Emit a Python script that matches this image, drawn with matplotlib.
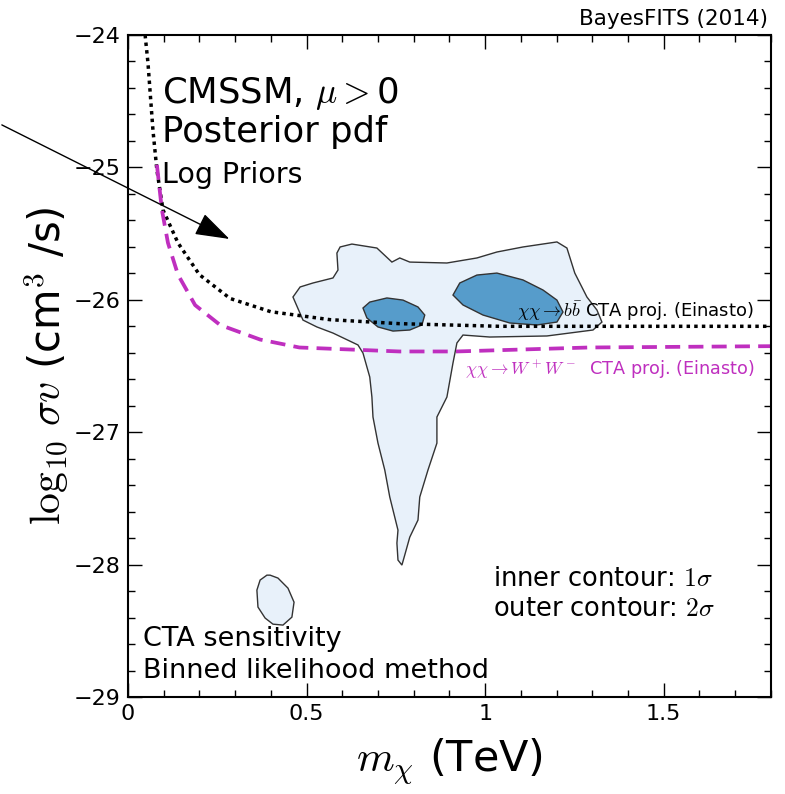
import numpy as np
import matplotlib.pyplot as plt
from matplotlib.ticker import MultipleLocator, FuncFormatter

plt.rcParams['mathtext.fontset'] = 'cm'
plt.rcParams['font.family'] = 'DejaVu Sans'

# outer (2 sigma) contour, main region
outer_x = [0.594, 0.627, 0.697, 0.739, 0.761, 0.789, 0.893, 0.977, 1.033, 1.106,
           1.201, 1.229, 1.251, 1.285, 1.313, 1.327, 1.302, 1.173, 1.013, 0.938,
           0.921, 0.910, 0.893, 0.865, 0.865, 0.840, 0.817, 0.812, 0.789, 0.775,
           0.767, 0.756, 0.753, 0.756, 0.733, 0.719, 0.700, 0.686, 0.683, 0.677,
           0.658, 0.644, 0.574, 0.529, 0.490, 0.462, 0.482, 0.518, 0.574, 0.588,
           0.585]
outer_y = [-25.601, -25.579, -25.609, -25.715, -25.684, -25.715, -25.722, -25.684,
           -25.639, -25.601, -25.563, -25.609, -25.798, -25.979, -26.077, -26.168,
           -26.228, -26.273, -26.281, -26.266, -26.326, -26.477, -26.734, -26.885,
           -27.082, -27.285, -27.489, -27.663, -27.792, -27.927, -28.003, -27.965,
           -27.837, -27.739, -27.489, -27.285, -27.082, -26.885, -26.734, -26.583,
           -26.402, -26.341, -26.251, -26.205, -26.153, -25.979, -25.903, -25.873,
           -25.835, -25.775, -25.647]

# outer contour, small island at low mass
island_x = [0.389, 0.370, 0.361, 0.364, 0.384, 0.406, 0.434, 0.459, 0.465, 0.448,
            0.420, 0.398]
island_y = [-28.079, -28.116, -28.192, -28.320, -28.403, -28.449, -28.456, -28.396,
            -28.283, -28.177, -28.101, -28.079]

# inner (1 sigma) contours
inner1_x = [0.658, 0.677, 0.725, 0.770, 0.812, 0.831, 0.823, 0.789, 0.742, 0.700, 0.669]
inner1_y = [-26.062, -26.017, -25.986, -26.002, -26.054, -26.115, -26.190, -26.228,
            -26.236, -26.205, -26.137]
inner2_x = [0.910, 0.929, 0.977, 1.033, 1.106, 1.162, 1.201, 1.218, 1.201, 1.145,
            1.069, 0.994, 0.938]
inner2_y = [-25.964, -25.873, -25.813, -25.798, -25.850, -25.926, -26.002, -26.092,
            -26.168, -26.190, -26.175, -26.115, -26.039]

# CTA projected sensitivities (Einasto)
bb_x = [0.048, 0.056, 0.070, 0.081, 0.098, 0.14, 0.20, 0.286, 0.40, 0.566, 0.76, 1.04, 1.8]
bb_y = [-24.0, -24.21, -24.72, -25.02, -25.32, -25.57, -25.81, -25.99, -26.09, -26.15,
        -26.18, -26.20, -26.20]
ww_x = [0.081, 0.095, 0.112, 0.14, 0.188, 0.258, 0.37, 0.48, 0.76, 0.92, 1.29, 1.8]
ww_y = [-24.98, -25.32, -25.57, -25.81, -26.04, -26.19, -26.30, -26.36, -26.39, -26.39,
        -26.36, -26.35]

light = '#e8f1fa'
dark = '#569ccb'
edge = '#333333'
mag = '#bf2fbf'

fig = plt.figure(figsize=(7.85, 7.94), dpi=100)
ax = fig.add_axes([0.163, 0.122, 0.819, 0.834])

ax.fill(outer_x, outer_y, facecolor=light, edgecolor=edge, lw=1)
ax.fill(island_x, island_y, facecolor=light, edgecolor=edge, lw=1)
ax.fill(inner1_x, inner1_y, facecolor=dark, edgecolor=edge, lw=1)
ax.fill(inner2_x, inner2_y, facecolor=dark, edgecolor=edge, lw=1)

ax.plot(bb_x, bb_y, color='k', lw=2.5, dashes=(1, 1.2))
ax.plot(ww_x, ww_y, color=mag, lw=2.7, dashes=(4, 2.2))

ax.text(1.089, -26.13, r'$\chi\chi \rightarrow b\bar{b}$ CTA proj. (Einasto)',
        fontsize=13, color='k')
ax.text(0.943, -26.568, r'$\chi\chi \rightarrow W^+W^-$  CTA proj. (Einasto)',
        fontsize=12.7, color=mag)

ax.text(0.095, -24.514, r'CMSSM, $\mu>$0', fontsize=25.5)
ax.text(0.095, -24.808, 'Posterior pdf', fontsize=25.5)
ax.text(0.095, -25.118, 'Log Priors', fontsize=20.5)
ax.text(1.022, -28.16, r'inner contour: $1\sigma$', fontsize=18.5)
ax.text(1.022, -28.39, r'outer contour: $2\sigma$', fontsize=18.5)
ax.text(0.042, -28.615, 'CTA sensitivity', fontsize=19.5)
ax.text(0.042, -28.857, 'Binned likelihood method', fontsize=19.5)

ax.annotate('', xy=(0.291, -25.55), xytext=(-0.36, -24.67),
            arrowprops=dict(arrowstyle='-|>,head_length=0.6,head_width=0.2',
                            mutation_scale=36, lw=1, color='k'),
            annotation_clip=False)

fig.text(0.978, 0.969, 'BayesFITS (2014)', fontsize=15.5, ha='right')

ax.set_xlim(0, 1.8)
ax.set_ylim(-29, -24)
ax.xaxis.set_major_locator(MultipleLocator(0.5))
ax.xaxis.set_minor_locator(MultipleLocator(0.1))
ax.yaxis.set_major_locator(MultipleLocator(1))
ax.yaxis.set_minor_locator(MultipleLocator(0.2))
ax.xaxis.set_major_formatter(FuncFormatter(lambda v, p: '%g' % v))
ax.yaxis.set_major_formatter(FuncFormatter(lambda v, p: ('%g' % v).replace('-', '\u2212')))
ax.tick_params(which='both', direction='in', top=True, right=True, labelsize=16)
ax.tick_params(which='major', length=10, width=1, pad=5)
ax.tick_params(which='minor', length=5, width=1)
for s in ax.spines.values():
    s.set_linewidth(1.5)

ax.set_xlabel(r'$m_\chi$ (TeV)', fontsize=31, labelpad=9)
ax.set_ylabel(r'$\log_{10}\,\sigma v$ (cm$^3$ /s)', fontsize=30, labelpad=2)

fig.savefig('out.png', dpi=100)
